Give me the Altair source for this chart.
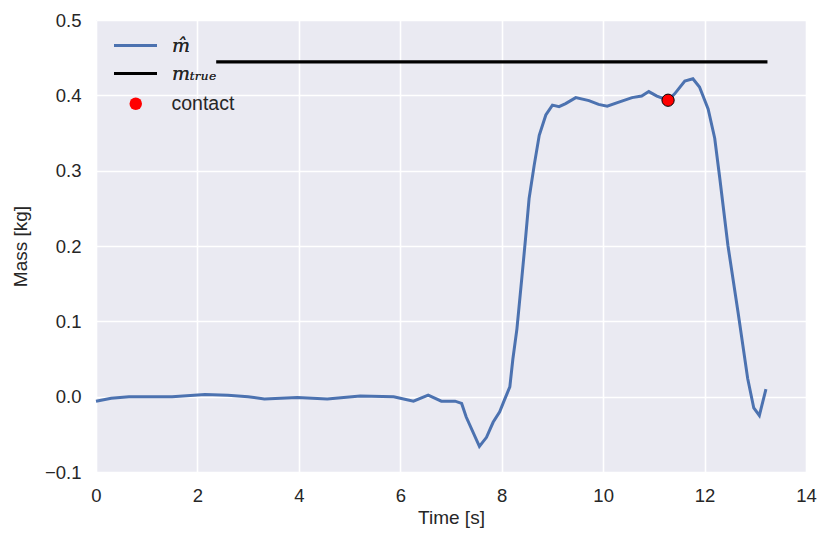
import altair as alt
import pandas as pd

# ---- data ----
t_hat = [0.0, 0.3, 0.65, 1.0, 1.5, 2.15, 2.6, 3.0, 3.32, 3.97, 4.56, 5.21, 5.87,
         6.0, 6.26, 6.55, 6.81, 7.08, 7.21, 7.3, 7.56, 7.7, 7.83, 7.96, 8.05,
         8.16, 8.22, 8.3, 8.4, 8.47, 8.54, 8.64, 8.74, 8.87, 9.0, 9.13, 9.26,
         9.46, 9.72, 9.91, 10.08, 10.31, 10.57, 10.76, 10.9, 11.06, 11.28, 11.41,
         11.61, 11.77, 11.9, 12.07, 12.2, 12.3, 12.46, 12.66, 12.85, 12.97, 13.08,
         13.21]
m_hat = [-0.006, -0.002, 0.0, 0.0, 0.0, 0.003, 0.002, 0.0, -0.003, -0.001, -0.003,
         0.001, 0.0, -0.002, -0.006, 0.002, -0.006, -0.006, -0.009, -0.027, -0.066,
         -0.054, -0.034, -0.020, -0.005, 0.013, 0.05, 0.09, 0.16, 0.21, 0.263, 0.307,
         0.347, 0.374, 0.387, 0.385, 0.389, 0.397, 0.393, 0.388, 0.3855, 0.391,
         0.397, 0.399, 0.405, 0.399, 0.3935, 0.402, 0.419, 0.422, 0.411, 0.382,
         0.343, 0.29, 0.201, 0.112, 0.024, -0.015, -0.025, 0.01]

t_true = [2.37, 13.24]
m_true = [0.4445, 0.4445]

t_contact = [11.28]
m_contact = [0.3935]

line_names = ["m\u0302", "m\u209c\u1d63\u1d64\u2091"]
line_colors = ["#4C72B0", "#000000"]
point_name = ["contact"]

x_ticks = [0, 2, 4, 6, 8, 10, 12, 14]
y_ticks = [-0.1, 0.0, 0.1, 0.2, 0.3, 0.4, 0.5]

# ---- tables ----
df_hat = pd.DataFrame({"t": t_hat, "m": m_hat, "series": line_names[0]})
df_true = pd.DataFrame({"t": t_true, "m": m_true, "series": line_names[1]})
df_contact = pd.DataFrame({"t": t_contact, "m": m_contact, "series": point_name[0]})

FONT = "Liberation Sans"

x_enc = alt.X("t:Q", title="Time [s]",
              scale=alt.Scale(domain=[0, 14], nice=False, zero=False),
              axis=alt.Axis(values=x_ticks, format="d", labelFlush=False))
y_enc = alt.Y("m:Q", title="Mass [kg]",
              scale=alt.Scale(domain=[-0.1, 0.5], nice=False, zero=False),
              axis=alt.Axis(values=y_ticks, format=".1f", labelFlush=False))

# wide horizontal stroke symbol with a small layout footprint
line_legend = alt.Legend(
    title=None, orient="none", legendX=30, legendY=16,
    symbolType="M-3,0H3", symbolSize=205, symbolStrokeWidth=3,
    labelFont="DejaVu Serif", labelFontStyle="italic", labelFontSize=19,
    labelColor="#262626", labelOffset=27, rowPadding=8,
)
point_legend = alt.Legend(
    title=None, orient="none", legendX=30, legendY=74,
    symbolType="circle", symbolSize=155, symbolFillColor="red",
    symbolStrokeColor="black", symbolStrokeWidth=1.2, symbolOpacity=1,
    labelFont=FONT, labelFontSize=19.5, labelColor="#262626", labelOffset=26,
)

color_enc = alt.Color("series:N",
                      scale=alt.Scale(domain=line_names, range=line_colors),
                      legend=line_legend)

hat_line = alt.Chart(df_hat).mark_line(strokeWidth=3).encode(
    x=x_enc, y=y_enc, color=color_enc)
true_line = alt.Chart(df_true).mark_line(strokeWidth=3.2).encode(
    x=x_enc, y=y_enc, color=color_enc)
contact_pt = alt.Chart(df_contact).mark_point(
    filled=True, size=150, fill="red", stroke="black", strokeWidth=1, opacity=1
).encode(
    x=x_enc, y=y_enc,
    shape=alt.Shape("series:N", scale=alt.Scale(domain=point_name, range=["circle"]),
                    legend=point_legend),
)

chart = alt.layer(hat_line, true_line, contact_pt).resolve_legend(
    color="independent", shape="independent"
).properties(
    width=710,
    height=452,
    autosize=alt.AutoSizeParams(type="none"),
    padding={"left": 88, "top": 12, "right": 11, "bottom": 58},
    background="white",
).configure_view(
    fill="#EAEAF2", stroke=None, strokeWidth=0
).configure_axis(
    domain=False,
    ticks=False,
    grid=True,
    gridColor="white",
    gridWidth=1.6,
    gridOpacity=1,
    labelFont=FONT,
    labelFontSize=18.5,
    labelColor="#262626",
    titleFont=FONT,
    titleFontSize=19,
    titleFontWeight="normal",
    titleColor="#262626",
).configure_axisX(
    labelPadding=14,
    titlePadding=4,
).configure_axisY(
    labelPadding=15,
    titlePadding=14,
)

chart.save("out.html", embed_options={"renderer": "svg", "actions": False})
